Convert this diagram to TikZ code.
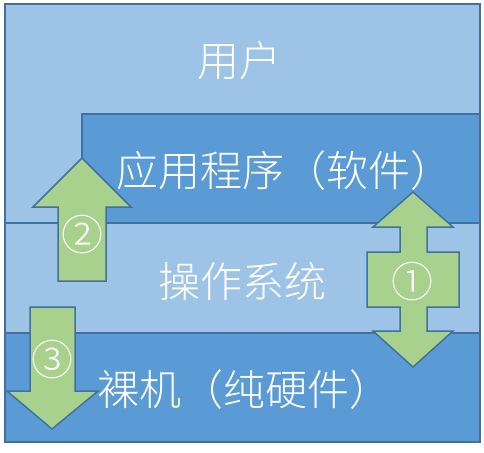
\documentclass[tikz,border=0pt]{standalone}
\usepackage{fontspec}
\newfontfamily\cjk{Noto Sans CJK SC Light}
\definecolor{layerlight}{HTML}{9DC3E6}
\definecolor{layerdark}{HTML}{5B9BD5}
\definecolor{edgeblue}{HTML}{41719C}
\definecolor{arrowgreen}{HTML}{A9D18E}
\tikzset{
  layer/.style={draw=edgeblue, line width=1.5pt},
  bigarrow/.style={fill=arrowgreen, draw=edgeblue, line width=1.5pt, line join=miter},
  layertext/.style={text=white, font=\cjk\fontsize{42}{42}\selectfont, inner sep=0pt},
  numtext/.style={text=white, font=\cjk\fontsize{42}{42}\selectfont, inner sep=0pt}
}
\begin{document}
\begin{tikzpicture}[x=1pt,y=-1pt]
\useasboundingbox (0,0) rectangle (484,452);
% layers, top to bottom
\draw[layer, fill=layerlight] (5,4) rectangle (480,223);
\draw[layer, fill=layerdark] (82,114) rectangle (480,223);
\draw[layer, fill=layerlight] (5,223) rectangle (480,333);
\draw[layer, fill=layerdark] (5,333) rectangle (480,442);
\node[layertext] (user) at (239,61) {用户};
\node[layertext] (app) at (284,171) {应用程序（软件）};
\node[layertext] (os) at (242,282) {操作系统};
\node[layertext] (hw) at (244,390) {裸机（纯硬件）};
% arrow 2, up
\draw[bigarrow] (58,281) -- (58,207) -- (33,207) -- (82,158) -- (131,207)
  -- (106,207) -- (106,281) -- cycle;
% arrow 3, down
\draw[bigarrow] (30,307) -- (75,307) -- (75,391) -- (98,391) -- (52,429)
  -- (7,391) -- (30,391) -- cycle;
% arrow 1, up and down
\draw[bigarrow] (413,192) -- (453,227) -- (427,227) -- (427,252) -- (459,252)
  -- (459,307) -- (427,307) -- (427,331) -- (453,331) -- (413,367)
  -- (373,331) -- (400,331) -- (400,307) -- (367,307) -- (367,252)
  -- (400,252) -- (400,227) -- (373,227) -- cycle;
\node[numtext] (one) at (412,282) {①};
\node[numtext] (two) at (82,235) {②};
\node[numtext] (three) at (52,360) {③};
\end{tikzpicture}
\end{document}
